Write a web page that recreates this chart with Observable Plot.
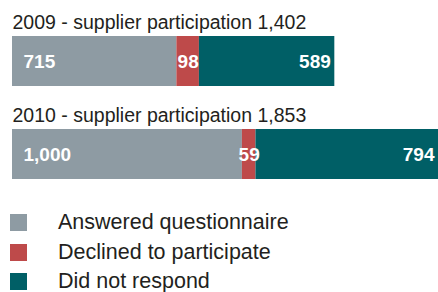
<!DOCTYPE html>
<html>
<head>
<meta charset="utf-8">
<script src="https://cdn.jsdelivr.net/npm/d3@7"></script>
<script src="https://cdn.jsdelivr.net/npm/@observablehq/plot@0.6"></script>
<style>
  html, body { margin: 0; padding: 0; background: #fff; }
  body { width: 438px; height: 292px; overflow: hidden; font-family: "Liberation Sans", Arial, sans-serif; }
  #legend { position: relative; height: 97px; }
  .sw { position: absolute; left: 10px; width: 17px; height: 17px; }
  .lab { position: absolute; left: 58px; font-size: 21.5px; color: #231f20; white-space: nowrap; line-height: 1; }
</style>
</head>
<body>
<div id="chart"></div>
<div id="legend"></div>
<script>
const years = ["2009", "2010"];
const totals = [1402, 1853];
const categories = ["Answered questionnaire", "Declined to participate", "Did not respond"];
const answered = [715, 1000];
const declined = [98, 59];
const noResponse = [589, 794];
const colors = ["#8e9ba3", "#be4a4a", "#005f66"];
const fmt = d3.format(",");

const rows = [];
years.forEach((yr, i) => {
  [answered[i], declined[i], noResponse[i]].forEach((v, j) => {
    rows.push({year: yr, category: categories[j], value: v});
  });
});

const titles = years.map((yr, i) => ({year: yr, text: `${yr} - supplier participation ${fmt(totals[i])}`}));
const labA = years.map((yr, i) => ({year: yr, x: 0, text: fmt(answered[i])}));
const labD = years.map((yr, i) => ({year: yr, x: answered[i] + declined[i] / 2, text: fmt(declined[i])}));
const labN = years.map((yr, i) => ({year: yr, x: totals[i], text: fmt(noResponse[i])}));

const chart = Plot.plot({
  width: 438,
  height: 195,
  marginLeft: 12,
  marginRight: 0,
  marginTop: 0,
  marginBottom: 0,
  style: {fontFamily: "'Liberation Sans', Arial, sans-serif", background: "#fff"},
  x: {domain: [0, 1853], axis: null},
  y: {domain: years, range: [36, 179], paddingInner: 0.4624, paddingOuter: 0, axis: null},
  color: {domain: categories, range: colors},
  marks: [
    Plot.barX(rows, Plot.stackX({x: "value", y: "year", fill: "category"})),
    Plot.text(titles, {x: 0, y: "year", text: "text", textAnchor: "start", lineAnchor: "bottom", dy: -33, fontSize: 19.5, fill: "#231f20"}),
    Plot.text(labA, {x: "x", y: "year", text: "text", textAnchor: "start", dx: 11, fontSize: 19, fontWeight: "bold", fill: "#fff"}),
    Plot.text(labD, {x: "x", y: "year", text: "text", textAnchor: "middle", fontSize: 19, fontWeight: "bold", fill: "#fff"}),
    Plot.text(labN, {x: "x", y: "year", text: "text", textAnchor: "end", dx: -4, fontSize: 19, fontWeight: "bold", fill: "#fff"})
  ]
});
document.getElementById("chart").appendChild(chart);

const legend = document.getElementById("legend");
categories.forEach((c, i) => {
  const top = 19 + i * 29.5;
  const sw = document.createElement("div");
  sw.className = "sw";
  sw.style.top = top + "px";
  sw.style.background = colors[i];
  legend.appendChild(sw);
  const lab = document.createElement("div");
  lab.className = "lab";
  lab.style.top = (top - 2) + "px";
  lab.textContent = c;
  legend.appendChild(lab);
});
</script>
</body>
</html>
